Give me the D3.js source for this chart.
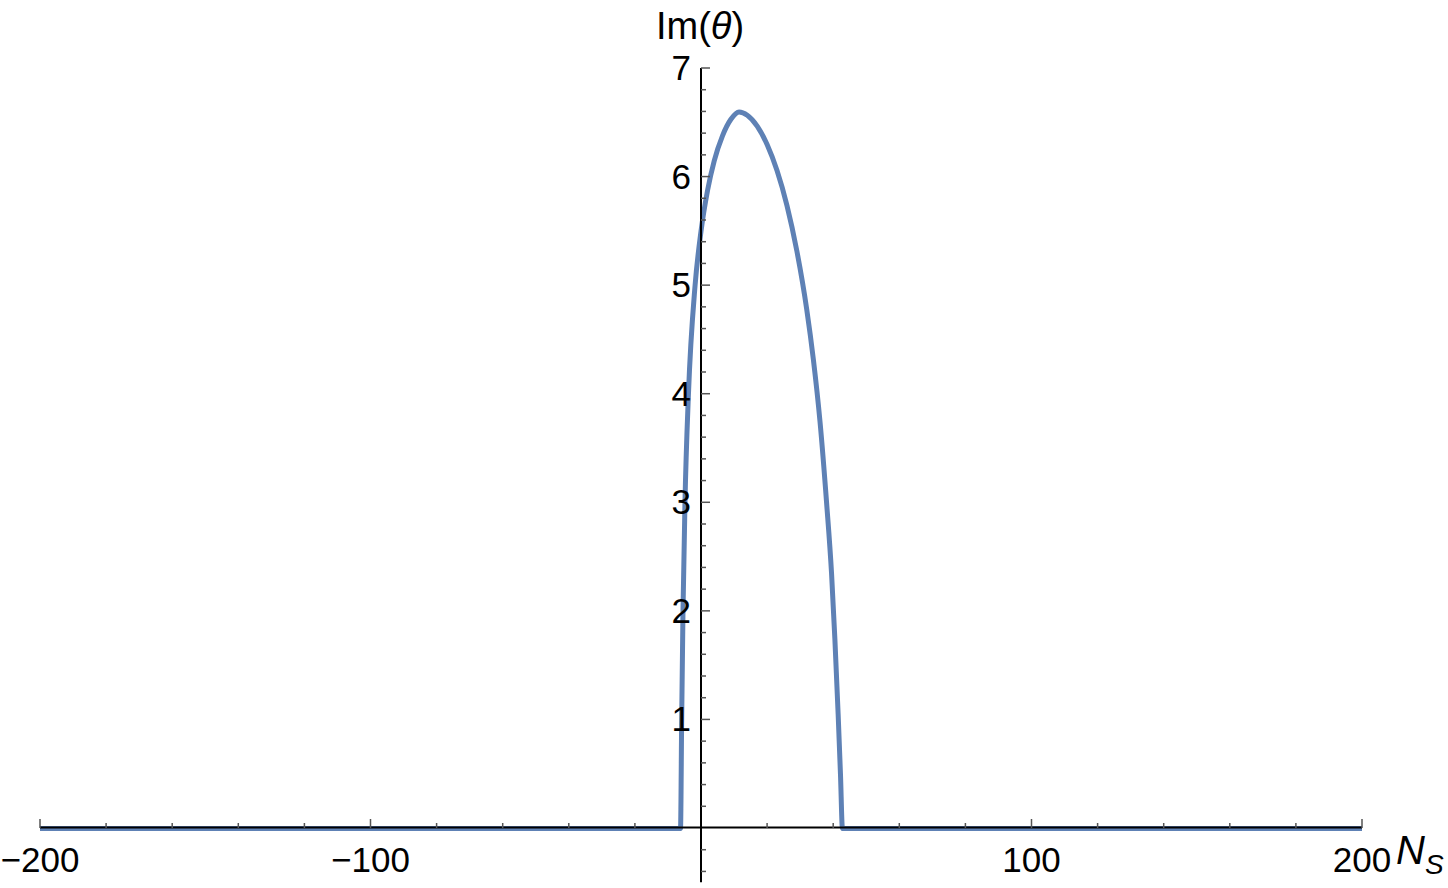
<!DOCTYPE html>
<html><head><meta charset="utf-8">
<script src="https://cdn.jsdelivr.net/npm/d3@7"></script>
<style>body{margin:0;background:#fff}text{font-family:"Liberation Sans",Arial,sans-serif}</style>
</head><body><svg id="c" width="1448" height="888"></svg>
<script>
const nsValues = [-200, -6.2, -5.85, -5.45, -4.85, -3.8, -1.8, 0, 2, 4, 6.5, 9, 11.5, 14, 17, 20, 23, 26, 29, 32, 34, 36, 38, 39.5, 40.5, 41.5, 42.2, 42.8, 200];
const imTheta  = [0, 0, 1, 2, 3, 4, 5, 5.5, 5.88, 6.15, 6.38, 6.53, 6.60, 6.57, 6.47, 6.30, 6.06, 5.74, 5.32, 4.78, 4.32, 3.75, 3.00, 2.35, 1.75, 1.05, 0.5, 0, 0];
const xMajorTicks = [-200, -100, 100, 200];
const xMinorTicks = d3.range(-200, 201, 20).filter(v => v % 100 !== 0);
const yMajorTicks = [1, 2, 3, 4, 5, 6, 7];
const yMinorTicks = d3.range(-4, 36).map(i => i / 5).filter(v => Math.abs(v - Math.round(v)) > 1e-9);

const svg = d3.select("#c");
const x = d3.scaleLinear().domain([-200, 200]).range([40, 1362]);
const y = d3.scaleLinear().domain([0, 7]).range([828, 68]);

const data = nsValues.map((v, i) => ({x: v, y: imTheta[i]}));

// curve
svg.append("path").datum(data)
  .attr("fill", "none").attr("stroke", "#5E81B5").attr("stroke-width", 5)
  .attr("stroke-linejoin", "round")
  .attr("d", d3.line().x(d => x(d.x)).y(d => y(d.y) + 0.5).curve(d3.curveMonotoneX));

// x axis
const xa = svg.append("g");
xa.append("line").attr("x1", x(-200)).attr("x2", x(200)).attr("y1", y(0) - 0.5).attr("y2", y(0) - 0.5)
  .attr("stroke", "#000").attr("stroke-width", 2);
xa.selectAll(".xmaj").data(xMajorTicks.concat([0])).enter().append("line")
  .attr("x1", d => x(d)).attr("x2", d => x(d)).attr("y1", y(0)).attr("y2", y(0) - 9)
  .attr("stroke", "#555").attr("stroke-width", 1.5);
xa.selectAll(".xmin").data(xMinorTicks).enter().append("line")
  .attr("x1", d => x(d)).attr("x2", d => x(d)).attr("y1", y(0)).attr("y2", y(0) - 5)
  .attr("stroke", "#555").attr("stroke-width", 1.5);
xa.selectAll(".xl").data(xMajorTicks).enter().append("text")
  .attr("x", d => x(d)).attr("y", 872).attr("text-anchor", "middle")
  .attr("font-size", 35).attr("fill", "#000")
  .text(d => d < 0 ? "\u2212" + Math.abs(d) : d);

// y axis
const ya = svg.append("g");
ya.append("line").attr("x1", x(0)).attr("x2", x(0)).attr("y1", y(7)).attr("y2", y(-0.5))
  .attr("stroke", "#000").attr("stroke-width", 2);
ya.selectAll(".ymaj").data(yMajorTicks).enter().append("line")
  .attr("x1", x(0)).attr("x2", x(0) + 9).attr("y1", d => y(d)).attr("y2", d => y(d))
  .attr("stroke", "#555").attr("stroke-width", 1.5);
ya.selectAll(".ymin").data(yMinorTicks).enter().append("line")
  .attr("x1", x(0)).attr("x2", x(0) + 5).attr("y1", d => y(d)).attr("y2", d => y(d))
  .attr("stroke", "#555").attr("stroke-width", 1.5);
ya.selectAll(".yl").data(yMajorTicks).enter().append("text")
  .attr("x", x(0) - 10).attr("y", d => y(d) + 12).attr("text-anchor", "end")
  .attr("font-size", 35).attr("fill", "#000").text(d => d);

// axis titles
const t = svg.append("text").attr("x", 700).attr("y", 39).attr("text-anchor", "middle")
  .attr("font-size", 38).attr("fill", "#000");
t.append("tspan").text("Im(");
t.append("tspan").attr("font-style", "italic").text("\u03B8");
t.append("tspan").text(")");

const n = svg.append("text").attr("x", 1396).attr("y", 864).attr("font-size", 40).attr("fill", "#000");
n.append("tspan").attr("font-style", "italic").text("N");
n.append("tspan").attr("font-style", "italic").attr("font-size", 28).attr("dy", 10).text("S");
</script></body></html>
